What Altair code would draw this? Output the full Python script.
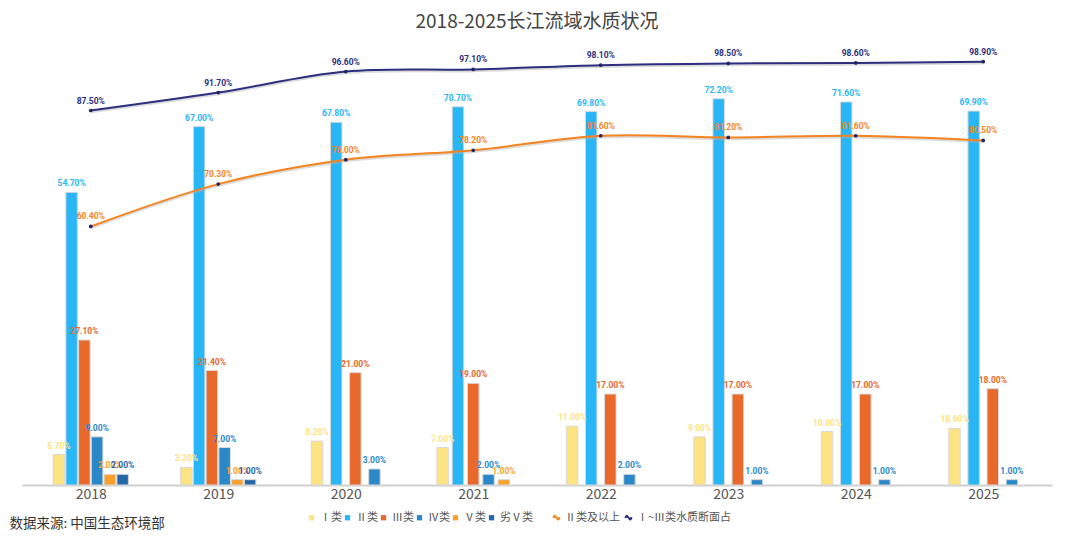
import altair as alt
import pandas as pd

YEARS = ["2018", "2019", "2020", "2021", "2022", "2023", "2024", "2025"]
BAR_SERIES = ["Ⅰ类", "Ⅱ类", "Ⅲ类", "Ⅳ类", "Ⅴ类", "劣Ⅴ类"]
CLASS_I = [5.7, 3.3, 8.2, 7.0, 11.0, 9.0, 10.0, 10.6]
CLASS_II = [54.7, 67.0, 67.8, 70.7, 69.8, 72.2, 71.6, 69.9]
CLASS_III = [27.1, 21.4, 21.0, 19.0, 17.0, 17.0, 17.0, 18.0]
CLASS_IV = [9.0, 7.0, 3.0, 2.0, 2.0, 1.0, 1.0, 1.0]
CLASS_V = [2.0, 1.0, None, 1.0, None, None, None, None]
CLASS_WORSE_V = [2.0, 1.0, None, None, None, None, None, None]
LINE_SERIES = ["Ⅱ类及以上", "Ⅰ~Ⅲ类水质断面占"]
GOOD_II_UP = [60.4, 70.3, 76.0, 78.2, 81.6, 81.2, 81.6, 80.5]
GOOD_I_III = [87.5, 91.7, 96.6, 97.1, 98.1, 98.5, 98.6, 98.9]

BAR_COLORS = ["#FCE384", "#29B6F6", "#E8692A", "#2A88C8", "#F9A02B", "#2468A8"]
LINE_COLORS = ["#F5841F", "#2B2F7E"]

bar_values = [CLASS_I, CLASS_II, CLASS_III, CLASS_IV, CLASS_V, CLASS_WORSE_V]
rows = []
for si, (name, vals) in enumerate(zip(BAR_SERIES, bar_values)):
    for yi, v in enumerate(vals):
        if v is not None:
            rows.append({"yi": yi, "series": name, "sidx": si, "value": v})
bars_df = pd.DataFrame(rows)

lrows = []
for name, vals in zip(LINE_SERIES, [GOOD_II_UP, GOOD_I_III]):
    for yi, v in enumerate(vals):
        lrows.append({"yi": yi, "series": name, "value": v})
lines_df = pd.DataFrame(lrows)

CJK = "Noto Sans CJK SC"
NUMFONT = "Liberation Sans Narrow, Roboto, sans-serif"

label_expr = "[" + ",".join("'%s'" % y for y in YEARS) + "][datum.value]"
x_scale = alt.Scale(domain=[-0.5, len(YEARS) - 0.5], nice=False, zero=False)
x_axis = alt.Axis(
    values=list(range(len(YEARS))), labelExpr=label_expr, grid=False, ticks=False,
    domainColor="#d0d0d0", domainWidth=2, labelFontSize=14, labelColor="#555555",
    labelFont=CJK, labelPadding=2,
    title="数据来源: 中国生态环境部", titleAnchor="start", titleAlign="left",
    titleX=-13, titleY=38, titleBaseline="middle", titleFontSize=13.5,
    titleFontWeight="normal", titleColor="#333333", titleFont=CJK,
)

bar_scale = alt.Scale(domain=BAR_SERIES, range=BAR_COLORS)
bar_legend = alt.Legend(
    orient="none", direction="horizontal", legendX=284, legendY=455, title=None,
    symbolType="square", symbolSize=28, symbolStrokeWidth=0, labelFontSize=11,
    labelColor="#555555", labelFont=CJK, labelOffset=3, columnPadding=0,
)
wave = "M-1,0.1C-0.7,-0.9,-0.35,-0.9,0,0C0.35,0.9,0.7,0.9,1,-0.1"
line_legend = alt.Legend(
    orient="none", direction="horizontal", legendX=529, legendY=455, title=None,
    symbolType=wave, symbolSize=45, symbolStrokeWidth=1.5, labelFontSize=11,
    labelColor="#555555", labelFont=CJK, labelOffset=3, columnPadding=2,
)

bx = alt.X("xpos:Q", scale=x_scale, axis=x_axis)
by = alt.Y("value:Q", scale=alt.Scale(domain=[0, 80], nice=False, zero=True), axis=None)

bars = alt.Chart().mark_bar(size=11.5, stroke="#d8d8d8", strokeWidth=1).encode(
    x=bx, y=by,
    color=alt.Color("series:N", scale=bar_scale, legend=bar_legend),
)
bar_labels = alt.Chart().mark_text(
    dy=-4, baseline="bottom", align="center", fontSize=8.5, fontWeight="bold", font=NUMFONT
).encode(
    x=bx, y=by, text="label:N",
    color=alt.Color("series:N", scale=bar_scale, legend=bar_legend),
)
bar_group = alt.layer(bars, bar_labels, data=bars_df).transform_joinaggregate(
    n="count()", groupby=["yi"]
).transform_window(
    rank="row_number()", sort=[alt.SortField("sidx")], groupby=["yi"]
).transform_calculate(
    xpos="datum.yi + (datum.rank - 1 - (datum.n - 1) / 2) * 0.6 / datum.n",
    label="format(datum.value, '.2f') + '%'",
)

lx = alt.X("yi:Q", scale=x_scale, axis=x_axis)
ly = alt.Y("value:Q", scale=alt.Scale(domain=[0, 100], nice=False, zero=True), axis=None)
shadow = alt.Chart().mark_line(
    interpolate="catmull-rom", strokeWidth=2.5, color="#b0b0b0", opacity=0.45, yOffset=1.5
).encode(x=lx, y=ly, detail="series:N")
line = alt.Chart().mark_line(interpolate="catmull-rom", strokeWidth=2).encode(
    x=lx, y=ly,
    stroke=alt.Stroke("series:N", scale=alt.Scale(domain=LINE_SERIES, range=LINE_COLORS), legend=line_legend),
)
points = alt.Chart().mark_point(filled=True, size=14, color="#1F2566", opacity=1).encode(x=lx, y=ly)
line_labels = alt.Chart().mark_text(
    dy=-5, baseline="bottom", align="center", fontSize=8.5, fontWeight="bold", font=NUMFONT
).encode(
    x=lx, y=ly, text="label:N",
    fill=alt.Fill("series:N", scale=alt.Scale(domain=LINE_SERIES, range=LINE_COLORS), legend=None),
)
line_group = alt.layer(shadow, line, points, line_labels, data=lines_df).transform_calculate(
    label="format(datum.value, '.2f') + '%'"
)

chart = alt.layer(bar_group, line_group).resolve_scale(y="independent").properties(
    width=1030, height=428,
    background="white",
    title=alt.TitleParams(
        "2018-2025长江流域水质状况", fontSize=19, color="#444444", font=CJK,
        fontWeight="normal", anchor="middle", baseline="bottom", offset=6, dy=9,
    ),
    padding={"left": 14, "top": 49, "right": 20, "bottom": 47},
    autosize=alt.AutoSizeParams(type="none"),
).configure_view(stroke=None)

chart.save("out.html", embed_options={"renderer": "svg", "actions": False})
